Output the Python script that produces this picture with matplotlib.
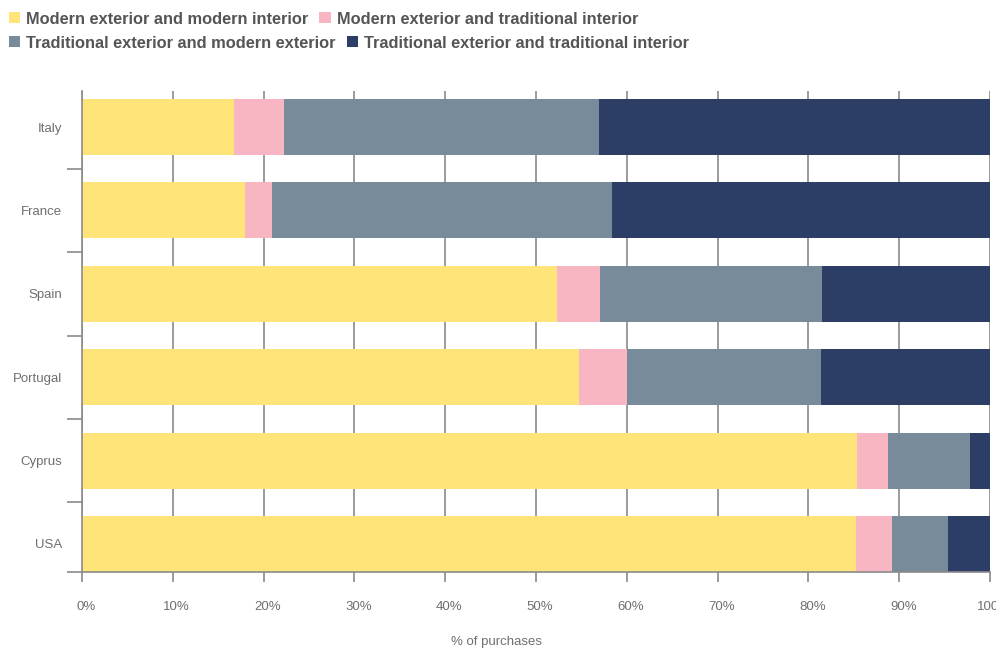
import numpy as np
import matplotlib.pyplot as plt
from matplotlib.patches import Patch
from matplotlib.transforms import ScaledTranslation

plt.rcParams['font.family'] = ['Liberation Sans', 'DejaVu Sans']

countries = ["Italy", "France", "Spain", "Portugal", "Cyprus", "USA"]
series_names = [
    "Modern exterior and modern interior",
    "Modern exterior and traditional interior",
    "Traditional exterior and modern exterior",
    "Traditional exterior and traditional interior",
]
modern_modern = [16.7, 17.9, 52.3, 54.7, 85.3, 85.2]
modern_trad = [5.5, 3.0, 4.7, 5.3, 3.5, 4.0]
trad_modern = [34.7, 37.5, 24.5, 21.4, 9.0, 6.2]
trad_trad = [43.1, 41.6, 18.5, 18.6, 2.2, 4.6]
colors = ["#FFE47A", "#F7B6C2", "#778B9B", "#2D3E66"]
xticks = [0, 10, 20, 30, 40, 50, 60, 70, 80, 90, 100]

W, H = 996, 648
fig = plt.figure(figsize=(W / 100, H / 100), dpi=100)
ax = fig.add_axes([82 / W, 1 - 572 / H, (990 - 82) / W, (572 - 91) / H])

y = np.arange(len(countries))
left = np.zeros(len(countries))
for vals, col in zip([modern_modern, modern_trad, trad_modern, trad_trad], colors):
    ax.barh(y, vals, left=left, height=0.67, color=col, zorder=2)
    left += np.array(vals)

ax.set_xlim(0, 100)
ax.set_ylim(5.336, -0.432)
ax.set_xticks(xticks)
ax.set_xticklabels([f"{t}%" for t in xticks])
ax.xaxis.grid(True, color="#8a8a8a", linewidth=1.2, zorder=1)
ax.set_axisbelow(True)

ax.set_yticks(y)
ax.set_yticklabels(countries)
ax.set_yticks(list(np.arange(0.5, 5, 1)) + [5.336], minor=True)
ax.tick_params(axis="y", which="major", length=0, pad=14.5, labelsize=9.5, labelcolor="#6f6f6f")
ax.tick_params(axis="y", which="minor", length=10.8, width=1.2, color="#8a8a8a")
ax.tick_params(axis="x", length=7.2, width=1.2, color="#8a8a8a", pad=13.5,
               labelsize=9.5, labelcolor="#6f6f6f")
offset = ScaledTranslation(4 / 100, 0, fig.dpi_scale_trans)
for lab in ax.get_xticklabels():
    lab.set_transform(lab.get_transform() + offset)
    lab.set_clip_on(False)

for side in ["top", "right"]:
    ax.spines[side].set_visible(False)
for side in ["left", "bottom"]:
    ax.spines[side].set_color("#8a8a8a")
    ax.spines[side].set_linewidth(1.2)

fig.text(496 / W, 1 - 642 / H, "% of purchases", ha="center", va="center",
         fontsize=9.5, color="#6f6f6f")

handles = [Patch(facecolor=c, edgecolor="none") for c in colors]
rows = [(0, 19), (2, 43)]
for start, ypx in rows:
    leg = fig.legend(handles[start:start + 2], series_names[start:start + 2],
                     loc="center left", bbox_to_anchor=(9 / W, 1 - ypx / H),
                     ncol=2, frameon=False, borderpad=0, borderaxespad=0,
                     handlelength=0.68, handleheight=0.68, handletextpad=0.37,
                     columnspacing=0.67, prop={"size": 11.8, "weight": "bold"})
    for t in leg.get_texts():
        t.set_color("#555555")

fig.savefig("out.png", dpi=100)
